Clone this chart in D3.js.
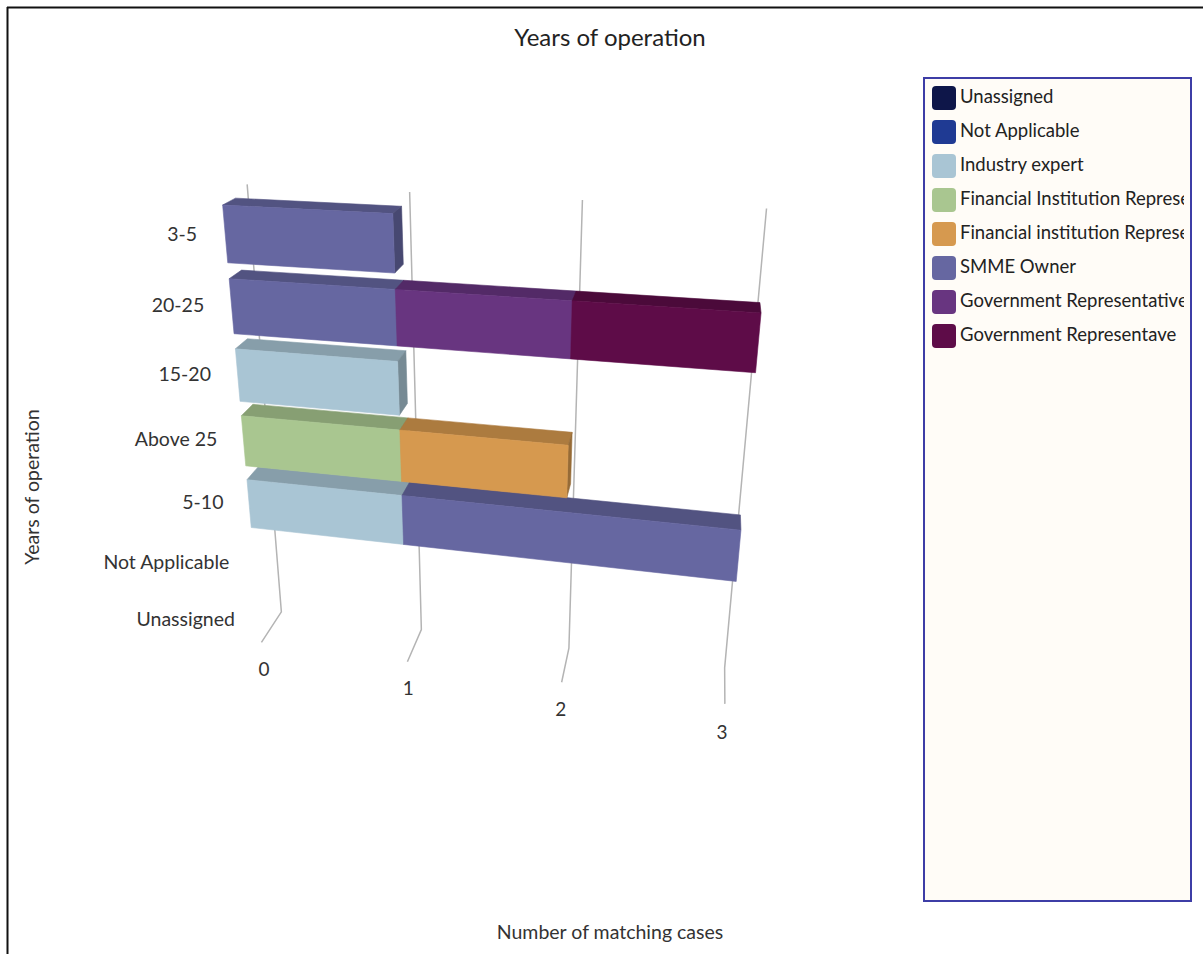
<!DOCTYPE html>
<html>
<head>
<meta charset="utf-8">
<script src="https://cdn.jsdelivr.net/npm/d3@7"></script>
<style>
  body { margin: 0; background: #fff; }
  text { font-family: Lato, "Noto Sans", sans-serif; }
</style>
</head>
<body>
<svg id="chart" width="1203" height="954"></svg>
<script>
// Categories (top to bottom) and stacked series values
const categories = ["3-5", "20-25", "15-20", "Above 25", "5-10", "Not Applicable", "Unassigned"];
const seriesNames = [
  "Unassigned",
  "Not Applicable",
  "Industry expert",
  "Financial Institution Representative",
  "Financial institution Representative",
  "SMME Owner",
  "Government Representative",
  "Government Representave"
];
const seriesColors = ["#0e1649", "#1f3a93", "#a9c5d4", "#a9c690", "#d6994f", "#6667a1", "#683580", "#5e0c48"];
const unassignedValues        = [0, 0, 0, 0, 0, 0, 0];
const notApplicableValues     = [0, 0, 0, 0, 0, 0, 0];
const industryExpertValues    = [0, 0, 1, 0, 1, 0, 0];
const finInstitutionValues    = [0, 0, 0, 1, 0, 0, 0];
const finInstitutionValues2   = [0, 0, 0, 1, 0, 0, 0];
const smmeOwnerValues         = [1, 1, 0, 0, 2, 0, 0];
const govRepresentativeValues = [0, 1, 0, 0, 0, 0, 0];
const govRepresentaveValues   = [0, 1, 0, 0, 0, 0, 0];
const valueTicks = [0, 1, 2, 3];

const seriesValues = [
  unassignedValues, notApplicableValues, industryExpertValues, finInstitutionValues,
  finInstitutionValues2, smmeOwnerValues, govRepresentativeValues, govRepresentaveValues
];

const svg = d3.select("#chart");
const FONT_COLOR = "#333";

// ---- 3D plot box and camera ----
// plot box: x along values, y down the categories, z from front (0) to back (d)
const plot = { w: 504, h: 504, d: 58 };
// position of the box relative to the camera axis, camera angles and distance
const box = { ox: -247.7, oy: -131.6, oz: -61.5 };
const view = { alpha: 20, beta: 11.5, distance: 1058, cx: 491, cy: 324 };

function project(x, y, z) {
  const a = view.alpha * Math.PI / 180, b = view.beta * Math.PI / 180;
  const px = x + box.ox, py = y + box.oy, pz = z + box.oz;
  const x1 = px * Math.cos(b) + pz * Math.sin(b);
  const z1 = -px * Math.sin(b) + pz * Math.cos(b);
  const y2 = py * Math.cos(a) - z1 * Math.sin(a);
  const z2 = py * Math.sin(a) + z1 * Math.cos(a);
  const f = view.distance / (view.distance + z2);
  return [view.cx + x1 * f, view.cy + y2 * f];
}

const xScale = d3.scaleLinear().domain([0, 3]).range([0, plot.w]);
const yScale = d3.scaleBand().domain(categories).range([0, plot.h + 8]).paddingInner(0.22).paddingOuter(0.1);

// ---- frame ----
svg.append("line").attr("x1", 7).attr("y1", 7.5).attr("x2", 1203).attr("y2", 7.5)
  .attr("stroke", "#111").attr("stroke-width", 2);
svg.append("line").attr("x1", 7.5).attr("y1", 7).attr("x2", 7.5).attr("y2", 954)
  .attr("stroke", "#111").attr("stroke-width", 2);

// ---- title ----
svg.append("text").attr("x", 610).attr("y", 46).attr("text-anchor", "middle")
  .attr("font-size", 24).attr("fill", "#222").text("Years of operation");

// ---- gridlines (back wall + floor) ----
const line = d3.line();
const grid = svg.append("g");
valueTicks.forEach(v => {
  const x = xScale(v);
  grid.append("path")
    .attr("d", line([project(x, 0, plot.d), project(x, plot.h, plot.d), project(x, plot.h, 0)]))
    .attr("fill", "none").attr("stroke", "#b4b4b4").attr("stroke-width", 1.5);
});

// ---- value tick labels ----
valueTicks.forEach(v => {
  const p = project(xScale(v), plot.h + 38, 0);
  svg.append("text").attr("x", p[0]).attr("y", p[1]).attr("text-anchor", "middle")
    .attr("dominant-baseline", "middle").attr("font-size", 19).attr("fill", FONT_COLOR).text(v);
});

// ---- category labels ----
categories.forEach(c => {
  const p = project(-29, yScale(c) + yScale.bandwidth() / 2, 0);
  svg.append("text").attr("x", p[0]).attr("y", p[1] + 3).attr("text-anchor", "end")
    .attr("dominant-baseline", "middle").attr("font-size", 19.5).attr("fill", FONT_COLOR).text(c);
});

// ---- stacked 3D bars ----
const barDepth = plot.d * 0.5;
function area(pts) {
  let s = 0;
  for (let i = 0; i < pts.length; i++) {
    const p = pts[i], q = pts[(i + 1) % pts.length];
    s += p[0] * q[1] - q[0] * p[1];
  }
  return s / 2;
}
function drawBox(g, x0, x1, y0, y1, z0, z1, color) {
  const c = d3.color(color);
  const faces = [
    { pts: [[x0, y1, z0], [x1, y1, z0], [x1, y1, z1], [x0, y1, z1]], fill: c.darker(1.2) },     // bottom
    { pts: [[x0, y0, z1], [x0, y0, z0], [x0, y1, z0], [x0, y1, z1]], fill: c.darker(1.0) },     // left
    { pts: [[x0, y0, z1], [x1, y0, z1], [x1, y0, z0], [x0, y0, z0]], fill: c.darker(0.62) },    // top
    { pts: [[x1, y0, z0], [x1, y0, z1], [x1, y1, z1], [x1, y1, z0]], fill: c.darker(1.0) },     // right
    { pts: [[x0, y0, z0], [x1, y0, z0], [x1, y1, z0], [x0, y1, z0]], fill: c }                  // front
  ];
  faces.forEach(f => {
    const sp = f.pts.map(p => project(p[0], p[1], p[2]));
    if (area(sp) <= 0) return;
    g.append("path").attr("d", line(sp) + "Z")
      .attr("fill", f.fill.formatHex()).attr("stroke", f.fill.formatHex())
      .attr("stroke-width", 0.6).attr("stroke-linejoin", "round");
  });
}

const bars = svg.append("g");
// rows drawn bottom to top, segments left to right
for (let ci = categories.length - 1; ci >= 0; ci--) {
  const cat = categories[ci];
  let acc = 0;
  seriesValues.forEach((vals, si) => {
    const v = vals[ci];
    if (!v) return;
    const y0 = yScale(cat), y1 = y0 + yScale.bandwidth();
    drawBox(bars, xScale(acc), xScale(acc + v), y0, y1, 0, barDepth, seriesColors[si]);
    acc += v;
  });
}

// ---- axis titles ----
svg.append("text").attr("transform", "translate(39,487) rotate(-90)").attr("text-anchor", "middle")
  .attr("font-size", 19.5).attr("fill", FONT_COLOR).text("Years of operation");
svg.append("text").attr("x", 610).attr("y", 939).attr("text-anchor", "middle")
  .attr("font-size", 19.5).attr("fill", FONT_COLOR).text("Number of matching cases");

// ---- legend ----
const legend = svg.append("g");
legend.append("rect").attr("x", 924).attr("y", 78).attr("width", 267).attr("height", 823)
  .attr("fill", "#fffcf7").attr("stroke", "#3d3da6").attr("stroke-width", 2);
svg.append("defs").append("clipPath").attr("id", "legendClip")
  .append("rect").attr("x", 925).attr("y", 79).attr("width", 259).attr("height", 820);
const items = legend.append("g").attr("clip-path", "url(#legendClip)");
seriesNames.forEach((name, i) => {
  const cy = 98 + i * 34;
  items.append("rect").attr("x", 932).attr("y", cy - 12).attr("width", 24).attr("height", 24)
    .attr("rx", 4).attr("fill", seriesColors[i]);
  items.append("text").attr("x", 960).attr("y", cy).attr("dominant-baseline", "middle")
    .attr("font-size", 18.5).attr("fill", "#222").text(name);
});
</script>
</body>
</html>
